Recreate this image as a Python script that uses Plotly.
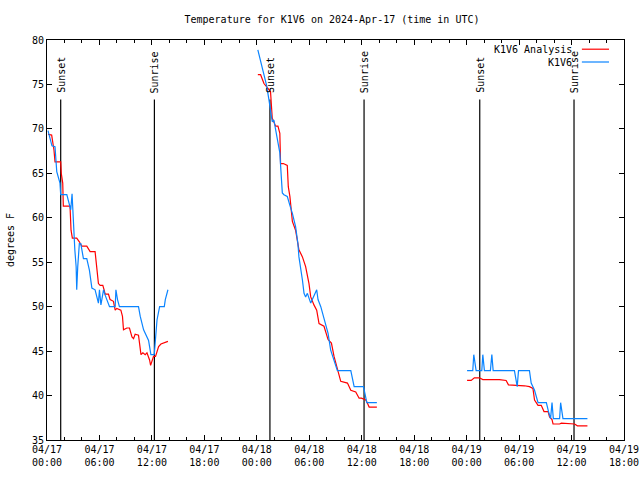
import plotly.graph_objects as go

# ---------------- data ----------------
obs_day1_times = ["00:07","00:34","00:55","01:07","01:29","01:34","02:16","02:33","02:43","02:52",
                  "02:57","03:11","03:20","03:24","03:31","03:42","03:52","04:01","04:10","04:33",
                  "04:51","05:08","05:30","05:53","06:00","06:10","06:28","06:39","07:09","07:48",
                  "07:53","08:04","08:17","10:28","10:40","11:03","11:26","11:37","11:44","11:53",
                  "12:16","12:23","12:35","12:53","13:25","13:32","13:44","13:50"]
obs_day1_temps = [69.8,68.1,68.0,65.2,63.9,62.6,62.6,61.4,60.9,62.7,
                  60.9,56.4,54.5,51.9,54.5,57.1,57.1,56.0,55.4,55.4,
                  54.1,52.1,51.9,50.4,51.9,50.2,51.9,51.3,50.0,50.0,
                  51.9,50.8,50.0,50.0,48.9,47.4,46.6,46.2,45.5,44.6,
                  44.6,46.2,48.5,50.0,50.0,50.8,51.7,51.9]

obs_day2_times = ["00:07","00:37","01:07","01:23","01:34","01:46","01:57","02:20","02:38","02:48",
                  "02:55","03:06","03:29","03:47","04:04","04:26","04:42","04:49","05:01","05:13",
                  "05:24","05:35","05:47","06:10","06:51","07:00","07:19","07:37","07:53","08:09",
                  "08:27","08:50","09:13","10:45","11:08","12:12","12:21","12:35","13:44"]
obs_day2_temps = [78.9,77.0,74.9,73.3,72.1,70.8,71.0,69.1,67.3,64.6,
                  62.8,62.6,62.4,61.4,60.5,59.0,57.1,55.6,54.5,53.0,
                  51.5,51.1,51.5,50.4,51.9,50.8,50.0,48.9,47.8,47.0,
                  45.1,44.0,42.8,42.8,41.0,41.0,40.3,39.2,39.2]

obs_day3_times = ["00:03","00:42","00:49","00:58","01:05","01:44","01:51","02:02","02:43","02:53",
                  "03:02","05:28","05:40","05:47","05:56","07:11","07:23","07:46","08:10","09:07",
                  "09:22","09:36","09:46","09:55","10:38","10:45","11:01","13:49"]
obs_day3_temps = [42.8,42.8,44.6,43.6,42.8,42.8,44.6,42.8,42.8,44.6,
                  42.8,42.8,41.4,41.0,42.8,42.8,41.4,40.6,39.2,39.2,
                  38.2,37.4,39.2,37.4,37.4,39.2,37.4,37.4]

ana_day1_times = ["00:07","00:32","00:48","00:55","01:34","01:38","01:48","01:52","02:38","02:45",
                  "02:54","03:24","03:42","03:59","04:33","04:56","05:30","05:42","05:53","06:05",
                  "06:23","06:32","06:39","07:02","07:13","07:36","07:48","07:59","08:27","08:38",
                  "08:45","09:08","09:26","09:43","09:54","10:05","10:28","10:35","10:45","10:58",
                  "11:14","11:26","11:44","11:51","12:02","12:11","12:25","12:35","12:46","13:02",
                  "13:44","13:50"]
ana_day1_temps = [69.4,69.3,67.6,66.3,66.3,65.0,63.9,61.3,61.3,58.6,
                  57.7,57.7,57.3,56.8,56.8,56.2,56.2,54.5,52.6,52.4,
                  52.4,51.9,51.4,51.4,50.8,50.6,49.6,49.8,49.6,48.9,
                  47.4,47.6,47.6,46.6,46.4,46.9,46.8,45.9,44.6,44.8,
                  44.6,44.8,44.0,43.4,44.0,44.4,44.4,44.9,45.5,45.8,
                  46.0,46.1]

ana_day2_times = ["00:07","00:26","00:49","01:34","01:46","02:09","02:25","02:38","02:43","03:02",
                  "03:29","03:36","03:47","04:04","04:26","04:49","05:13","05:35","05:58","06:10",
                  "06:32","06:51","07:07","07:41","08:09","08:32","08:50","09:13","09:36","10:22",
                  "10:45","11:19","11:42","11:58","12:28","12:40","12:51","13:44"]
ana_day2_temps = [76.1,76.1,75.1,74.2,71.2,70.3,70.3,69.5,66.1,66.1,
                  65.9,63.5,62.4,59.6,58.6,56.4,55.6,54.5,52.6,51.1,
                  50.2,49.6,48.1,47.8,46.3,45.9,44.4,43.1,41.6,41.4,
                  40.6,40.4,39.7,39.7,39.5,39.1,38.7,38.7]

ana_day3_times = ["00:03","00:31","00:53","01:28","01:51","02:37","02:48","03:34","03:45","04:31",
                  "04:47","06:37","07:11","07:35","07:46","08:10","08:32","08:51","09:19","09:29",
                  "09:46","09:53","10:38","10:50","12:21","12:40","13:49"]
ana_day3_temps = [41.7,41.7,42.0,42.0,41.8,41.8,41.8,41.8,41.8,41.7,
                  41.2,41.1,41.0,40.8,39.5,38.9,38.9,38.2,38.2,37.6,
                  37.3,36.8,36.8,36.9,36.8,36.6,36.6]

days = ["2024-04-17", "2024-04-18", "2024-04-19"]

sun_times = ["2024-04-17 01:34", "2024-04-17 12:17",
             "2024-04-18 01:30", "2024-04-18 12:16",
             "2024-04-19 01:30", "2024-04-19 12:17"]
sun_labels = ["Sunset", "Sunrise", "Sunset", "Sunrise", "Sunset", "Sunrise"]
sun_line_top = 73.3

series_names = ["K1V6 Analysis", "K1V6"]
series_colors = ["#ff0000", "#0a84ff"]

y_min, y_max = 35, 80
x_start, x_end = "2024-04-17 00:00", "2024-04-19 18:00"


def join_days(day_times, day_temps):
    xs, ys = [], []
    for d, ts, vs in zip(days, day_times, day_temps):
        xs += [f"{d} {t}" for t in ts] + [None]
        ys += list(vs) + [None]
    return xs, ys


ana_x, ana_y = join_days([ana_day1_times, ana_day2_times, ana_day3_times],
                         [ana_day1_temps, ana_day2_temps, ana_day3_temps])
obs_x, obs_y = join_days([obs_day1_times, obs_day2_times, obs_day3_times],
                         [obs_day1_temps, obs_day2_temps, obs_day3_temps])

FONT = "DejaVu Sans Mono"
W, H = 640, 480

fig = go.Figure()
fig.add_trace(go.Scatter(x=ana_x, y=ana_y, mode="lines", name=series_names[0],
                         line=dict(color=series_colors[0], width=1.2), connectgaps=False,
                         showlegend=False))
fig.add_trace(go.Scatter(x=obs_x, y=obs_y, mode="lines", name=series_names[1],
                         line=dict(color=series_colors[1], width=1.2), connectgaps=False,
                         showlegend=False))

for t, lab in zip(sun_times, sun_labels):
    fig.add_shape(type="line", xref="x", yref="y", x0=t, x1=t, y0=y_min, y1=sun_line_top,
                  line=dict(color="black", width=1.2), layer="below")
    fig.add_annotation(x=t, y=sun_line_top + 0.5, xref="x", yref="y", text=lab,
                       textangle=-90, showarrow=False, xanchor="center", yanchor="bottom",
                       font=dict(family=FONT, size=10, color="black"))

# manual legend (gnuplot style: text right, sample line after it)
leg_y = [0.977, 0.945]
for name, col, ly in zip(series_names, series_colors, leg_y):
    fig.add_annotation(x=0.913, y=ly, xref="paper", yref="paper", text=name, showarrow=False,
                       xanchor="right", yanchor="middle",
                       font=dict(family=FONT, size=10, color="black"))
    fig.add_shape(type="line", xref="paper", yref="paper", x0=0.927, x1=0.974, y0=ly, y1=ly,
                  line=dict(color=col, width=1.2))

fig.add_annotation(x=-0.064, y=0.5, xref="paper", yref="paper", text="degrees F",
                   textangle=-90, showarrow=False, xanchor="center", yanchor="middle",
                   font=dict(family=FONT, size=10, color="black"))

fig.update_layout(
    width=W, height=H,
    margin=dict(l=47, r=16, t=40, b=40, pad=0, autoexpand=False),
    paper_bgcolor="white", plot_bgcolor="white",
    font=dict(family=FONT, size=10, color="black"),
    title=dict(text="Temperature for K1V6 on 2024-Apr-17 (time in UTC)",
               x=332 / W, xref="container", xanchor="center",
               y=1 - 19 / H, yref="container", yanchor="middle",
               font=dict(family=FONT, size=10, color="black")),
    showlegend=False,
    hovermode=False,
)
fig.update_xaxes(
    type="date", range=[x_start, x_end], automargin=False,
    tick0=x_start, dtick=6 * 3600 * 1000, tickformat="%m/%d<br>%H:%M",
    ticks="inside", ticklen=5, tickcolor="black", tickwidth=1,
    minor=dict(dtick=2 * 3600 * 1000, ticks="inside", ticklen=3, tickcolor="black", showgrid=False),
    showline=True, linecolor="black", linewidth=1, mirror="ticks",
    showgrid=False, zeroline=False, ticklabeloverflow="allow",
    tickfont=dict(family=FONT, size=10, color="black"),
)
fig.update_yaxes(
    range=[y_min, y_max], dtick=5, tick0=35, automargin=False,
    ticks="inside", ticklen=5, tickcolor="black", tickwidth=1,
    showline=True, linecolor="black", linewidth=1, mirror="ticks",
    showgrid=False, zeroline=False,
    tickfont=dict(family=FONT, size=10, color="black"),
)

fig.write_html("out.html",
               config={"displayModeBar": False, "staticPlot": True},
               post_script="document.body.style.margin='0';document.body.style.overflow='hidden';")
